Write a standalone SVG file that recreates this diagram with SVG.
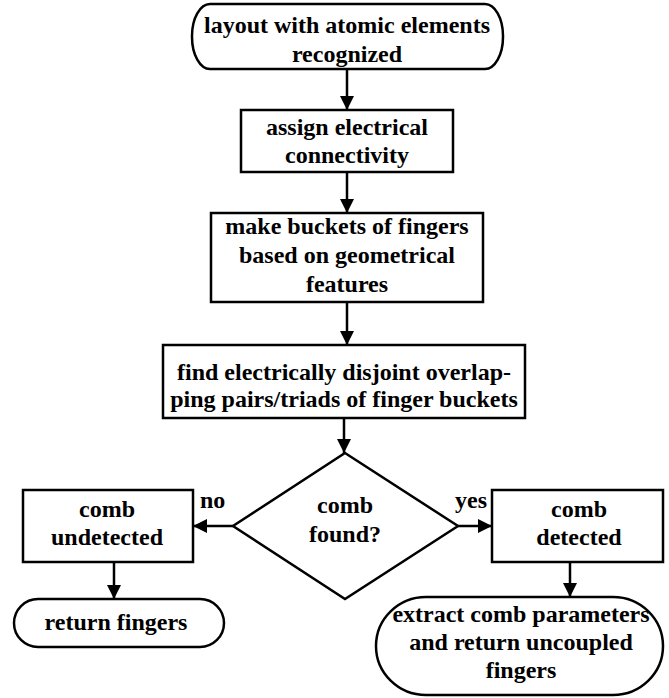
<svg xmlns="http://www.w3.org/2000/svg" width="669" height="698" viewBox="0 0 669 698">
<style>
.s{fill:#fff;stroke:#000;stroke-width:2.5}
.t{font-family:"Liberation Serif","Times New Roman",serif;font-weight:bold;font-size:24px;fill:#000;text-anchor:middle}
.l{font-family:"Liberation Serif","Times New Roman",serif;font-weight:bold;font-size:24px;fill:#000}
.c{stroke:#000;stroke-width:2.5;fill:none;marker-end:url(#ah)}
</style>
<defs>
<marker id="ah" viewBox="0 0 14 14" refX="14" refY="7" markerWidth="14" markerHeight="14" markerUnits="userSpaceOnUse" orient="auto">
<path d="M0,0 L14,7 L0,14 z" fill="#000"/>
</marker>
</defs>
<rect width="669" height="698" fill="#fff"/>
<g id="start">
<rect class="s" x="192" y="4" width="311" height="65" rx="18" ry="32"/>
<text class="t" x="347" y="33">layout with atomic elements</text>
<text class="t" x="347" y="62">recognized</text>
</g>
<g id="assign">
<rect class="s" x="241" y="110" width="212" height="62"/>
<text class="t" x="347" y="135">assign electrical</text>
<text class="t" x="347" y="163">connectivity</text>
</g>
<g id="buckets">
<rect class="s" x="211" y="213" width="272" height="89"/>
<text class="t" x="347" y="234">make buckets of fingers</text>
<text class="t" x="347" y="263">based on geometrical</text>
<text class="t" x="347" y="292">features</text>
</g>
<g id="find">
<rect class="s" x="163" y="345" width="362" height="73"/>
<text class="t" x="344" y="380">find electrically disjoint overlap-</text>
<text class="t" x="344" y="407">ping pairs/triads of finger buckets</text>
</g>
<g id="decision">
<polygon class="s" points="345,453 458,526 345,599 233,526"/>
<text class="t" x="345" y="513">comb</text>
<text class="t" x="345" y="542">found?</text>
</g>
<g id="undetected">
<rect class="s" x="23" y="490" width="170" height="72"/>
<text class="t" x="107" y="517">comb</text>
<text class="t" x="107" y="545">undetected</text>
</g>
<g id="detected">
<rect class="s" x="492" y="490" width="171" height="72"/>
<text class="t" x="579" y="517">comb</text>
<text class="t" x="579" y="545">detected</text>
</g>
<g id="return">
<rect class="s" x="14" y="599" width="210" height="48" rx="24" ry="24"/>
<text class="t" x="116" y="630">return fingers</text>
</g>
<g id="extract">
<rect class="s" x="376" y="597" width="287" height="98" rx="50" ry="49"/>
<text class="t" x="521" y="622">extract comb parameters</text>
<text class="t" x="521" y="650">and return uncoupled</text>
<text class="t" x="521" y="678">fingers</text>
</g>
<g id="connectors">
<line class="c" x1="347" y1="69" x2="347" y2="110"/>
<line class="c" x1="347" y1="172" x2="347" y2="213"/>
<line class="c" x1="347" y1="302" x2="347" y2="345"/>
<line class="c" x1="344" y1="418" x2="344" y2="453"/>
<line class="c" x1="233" y1="526" x2="193" y2="526"/>
<line class="c" x1="458" y1="526" x2="492" y2="526"/>
<line class="c" x1="114" y1="562" x2="114" y2="599"/>
<line class="c" x1="570" y1="562" x2="570" y2="597"/>
<text class="l" x="200" y="508">no</text>
<text class="l" x="455" y="508">yes</text>
</g>
</svg>
